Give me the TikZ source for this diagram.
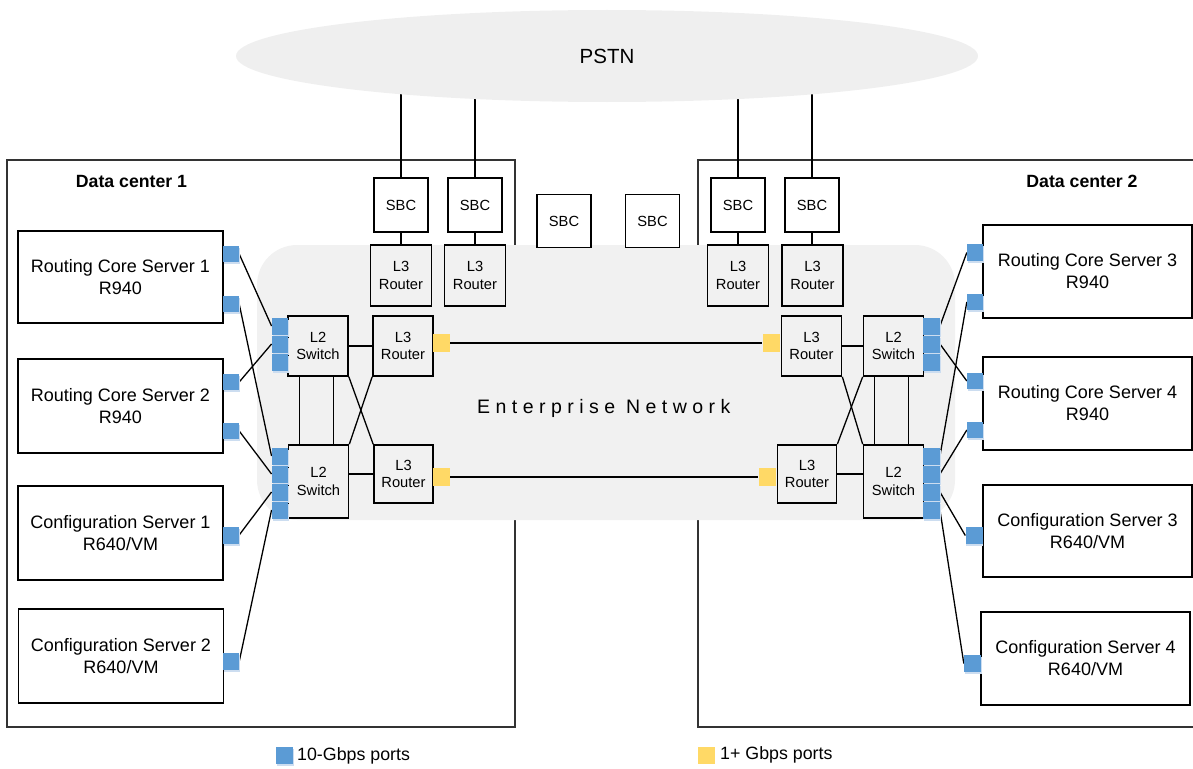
\documentclass[tikz,border=0pt]{standalone}
\usepackage{fontspec}
\setmainfont{Liberation Sans}
\newfontfamily\spacedfont[LetterSpace=28]{Liberation Sans}
\usetikzlibrary{shapes.geometric}
\pgfdeclarelayer{back}
\pgfdeclarelayer{wires}
\pgfsetlayers{back,wires,main}

\definecolor{portblue}{HTML}{5B9BD5}
\definecolor{portshade}{HTML}{CCDDF0}
\definecolor{portyellow}{HTML}{FFD966}
\definecolor{netgray}{HTML}{F1F1F1}
\definecolor{cloudgray}{HTML}{EFEFEF}
\definecolor{framegray}{HTML}{333333}

\begin{document}
\begin{tikzpicture}[x=1pt,y=-1pt,
  wire/.style={line width=1.3pt, draw=black},
  dev/.style={draw=black, line width=1.7pt, inner sep=0pt, align=center,
    font=\fontsize{14.7}{17.5}\selectfont},
  sbcbox/.style={dev, fill=white, minimum width=54pt, minimum height=54pt},
  rtr/.style={dev, fill=netgray, minimum width=60pt, minimum height=60pt},
  server/.style={draw=black, line width=1.8pt, fill=white, inner sep=0pt, align=center,
    minimum width=205pt, minimum height=93pt, font=\fontsize{18}{22}\selectfont},
  port/.style={fill=portblue, inner sep=0pt, minimum width=16pt, minimum height=16pt,
    preaction={fill=portshade, transform canvas={shift={(0.8pt,-2pt)}}}},
  swport/.style={port, minimum width=16.5pt, minimum height=17pt},
  yport/.style={fill=portyellow, inner sep=0pt, minimum width=17pt, minimum height=18pt},
  frame/.style={draw=framegray, line width=1.3pt},
  title/.style={font=\bfseries\fontsize{17.7}{21}\selectfont, inner sep=0pt},
  legend/.style={font=\fontsize{17.8}{21}\selectfont, anchor=west, inner sep=0pt},
]
\useasboundingbox (0,0) rectangle (1193,768);

% ---------- data centres and the enterprise network area ----------
\begin{pgfonlayer}{back}
  \node[frame, minimum width=508pt, minimum height=567pt, inner sep=0pt] (dc1) at (261,443.5) {};
  \node[frame, minimum width=510pt, minimum height=567pt, inner sep=0pt] (dc2) at (953,443.5) {};
  \node[fill=netgray, rounded corners=40pt, minimum width=698pt, minimum height=275pt,
        inner sep=0pt] (entnet) at (606,382.5) {};
\end{pgfonlayer}

\node[font=\spacedfont\fontsize{19.5}{22}\selectfont, anchor=west, inner sep=0pt]
  (entlabel) at (477,408) {Enterprise Network};

\node[title] (dc1title) at (131.5,181) {Data center 1};
\node[title] (dc2title) at (1082,181) {Data center 2};

% ---------- PSTN ----------
\node[ellipse, fill=cloudgray, minimum width=742pt, minimum height=92pt, inner sep=0pt,
      font=\fontsize{20.5}{24}\selectfont] (pstn) at (607,56) {PSTN};

% ---------- SBCs and edge routers ----------
\node[sbcbox] (sbc1) at (401,205) {SBC};
\node[sbcbox] (sbc2) at (475,205) {SBC};
\node[sbcbox, minimum height=53pt] (sbc3) at (564,221) {SBC};
\node[sbcbox, minimum height=53pt] (sbc4) at (652.5,221) {SBC};
\node[sbcbox] (sbc5) at (738,205) {SBC};
\node[sbcbox] (sbc6) at (812,205) {SBC};

\node[rtr, minimum width=61pt, minimum height=61pt] (rt1) at (401,275.5) {L3\\Router};
\node[rtr, minimum width=61pt, minimum height=61pt] (rt2) at (475,275.5) {L3\\Router};
\node[rtr, minimum width=61pt, minimum height=61pt] (rt3) at (738,275.5) {L3\\Router};
\node[rtr, minimum width=61pt, minimum height=61pt] (rt4) at (812.5,275.5) {L3\\Router};

% ---------- core switches and routers, site 1 ----------
\node[rtr] (sw1) at (318,346) {L2\\Switch};
\node[rtr, minimum height=73pt] (sw2) at (318.5,481.5) {L2\\Switch};
\node[rtr] (ra) at (403,346) {L3\\Router};
\node[rtr, minimum width=59pt, minimum height=58pt] (rb) at (403.5,474) {L3\\Router};
\node[yport] (ya) at (441.5,343) {};
\node[yport] (yb) at (441.5,477) {};

\node[swport] (s1p1) at (280,326) {};
\node[swport] (s1p2) at (280,344) {};
\node[swport] (s1p3) at (280,362) {};
\node[swport] (s2p1) at (280,456) {};
\node[swport] (s2p2) at (280,474) {};
\node[swport] (s2p3) at (280,492) {};
\node[swport] (s2p4) at (280,510) {};

% ---------- core switches and routers, site 2 ----------
\node[rtr] (sw3) at (893.5,346) {L2\\Switch};
\node[rtr, minimum height=73pt] (sw4) at (893.5,481.5) {L2\\Switch};
\node[rtr] (rc) at (811.5,346) {L3\\Router};
\node[rtr, minimum width=59pt, minimum height=58pt] (rd) at (807,474) {L3\\Router};
\node[yport] (yc) at (771,343) {};
\node[yport] (yd) at (767,477) {};

\node[swport] (s3p1) at (931.5,326) {};
\node[swport] (s3p2) at (931.5,344) {};
\node[swport] (s3p3) at (931.5,362) {};
\node[swport] (s4p1) at (931.5,456) {};
\node[swport] (s4p2) at (931.5,474) {};
\node[swport] (s4p3) at (931.5,492) {};
\node[swport] (s4p4) at (931.5,510) {};

% ---------- servers, site 1 ----------
\node[server, minimum height=92pt] (rcs1) at (120.5,277) {Routing Core Server 1\\R940};
\node[server, minimum height=94pt] (rcs2) at (120.5,406) {Routing Core Server 2\\R940};
\node[server, minimum height=94pt] (cs1) at (120.5,533) {Configuration Server 1\\R640/VM};
\node[server, minimum height=94pt] (cs2) at (121,656) {Configuration Server 2\\R640/VM};

\node[port] (rcs1a) at (231,254) {};
\node[port] (rcs1b) at (231,304) {};
\node[port] (rcs2a) at (231,382) {};
\node[port] (rcs2b) at (231,431) {};
\node[port, minimum height=17pt] (cs1a) at (231,535) {};
\node[port, minimum height=17pt] (cs2a) at (231,661.5) {};

% ---------- servers, site 2 ----------
\node[server, minimum width=209pt] (rcs3) at (1087.5,271.5) {Routing Core Server 3\\R940};
\node[server, minimum width=209pt] (rcs4) at (1087.5,403.5) {Routing Core Server 4\\R940};
\node[server, minimum width=209pt, minimum height=92pt] (cs3) at (1087.5,531) {Configuration Server 3\\R640/VM};
\node[server, minimum width=209pt] (cs4) at (1085.5,658.5) {Configuration Server 4\\R640/VM};

\node[port, minimum height=17pt] (rcs3a) at (975,252.5) {};
\node[port] (rcs3b) at (975,302) {};
\node[port] (rcs4a) at (975,381) {};
\node[port] (rcs4b) at (975,430) {};
\node[port, minimum width=17pt, minimum height=17pt] (cs3a) at (974,535.5) {};
\node[port, minimum width=17pt, minimum height=17pt] (cs4a) at (972.5,663.5) {};

% ---------- legend ----------
\node[port, minimum width=17pt, minimum height=17pt] (key10) at (284.5,755.5) {};
\node[legend] (key10text) at (297,756) {10-Gbps ports};
\node[yport, minimum height=17pt] (key1) at (706.5,755.5) {};
\node[legend] (key1text) at (720,755) {1+ Gbps ports};

% ---------- links ----------
\begin{pgfonlayer}{wires}
  % PSTN to the SBCs
  \foreach \s in {sbc1,sbc2,sbc5,sbc6}
    \draw[wire] (\s.north) -- (\s.north |- pstn.center);
  % SBCs to their edge routers
  \draw[wire] (sbc1.south) -- (sbc1.south |- rt1.north);
  \draw[wire] (sbc2.south) -- (sbc2.south |- rt2.north);
  \draw[wire] (sbc5.south) -- (sbc5.south |- rt3.north);
  \draw[wire] (sbc6.south) -- (sbc6.south |- rt4.north);

  % site 1 core
  \draw[wire] (sw1.east) -- (ra.west);
  \draw[wire] (sw2.east |- rb.west) -- (rb.west);
  \draw[wire] ([xshift=12pt]sw1.south west) -- ([xshift=12pt]sw1.south west |- sw2.north);
  \draw[wire] ([xshift=46pt]sw1.south west) -- ([xshift=46pt]sw1.south west |- sw2.north);
  \draw[wire] (sw1.south east) -- (rb.north west);
  \draw[wire] (ra.south west) -- (sw2.north east);

  % site 2 core
  \draw[wire] (rc.east) -- (sw3.west);
  \draw[wire] (rd.east) -- (rd.east -| sw4.west);
  \draw[wire] ([xshift=12pt]sw3.south west) -- ([xshift=12pt]sw3.south west |- sw4.north);
  \draw[wire] ([xshift=46pt]sw3.south west) -- ([xshift=46pt]sw3.south west |- sw4.north);
  \draw[wire] (rc.south east) -- (sw4.north west);
  \draw[wire] (sw3.south west) -- (rd.north east);

  % inter-site links over the enterprise network
  \draw[wire] (ya.east) -- (yc.west);
  \draw[wire] (yb.east) -- (yd.west);

  % site 1 servers to switches
  \draw[wire] (rcs1a.east) -- (s1p1.west);
  \draw[wire] (rcs2a.east) -- (s1p2.west);
  \draw[wire] (rcs1b.east) -- (s2p1.west);
  \draw[wire] (rcs2b.east) -- (s2p2.west);
  \draw[wire] (cs1a.east) -- (s2p3.west);
  \draw[wire] (cs2a.east) -- (s2p4.west);

  % site 2 servers to switches
  \draw[wire] (rcs3a.west) -- (s3p1.east);
  \draw[wire] (rcs4a.west) -- (s3p2.east);
  \draw[wire] (rcs3b.west) -- (s4p1.east);
  \draw[wire] (rcs4b.west) -- (s4p2.east);
  \draw[wire] (cs3a.west) -- (s4p3.east);
  \draw[wire] (cs4a.west) -- (s4p4.east);
\end{pgfonlayer}
\end{tikzpicture}
\end{document}
